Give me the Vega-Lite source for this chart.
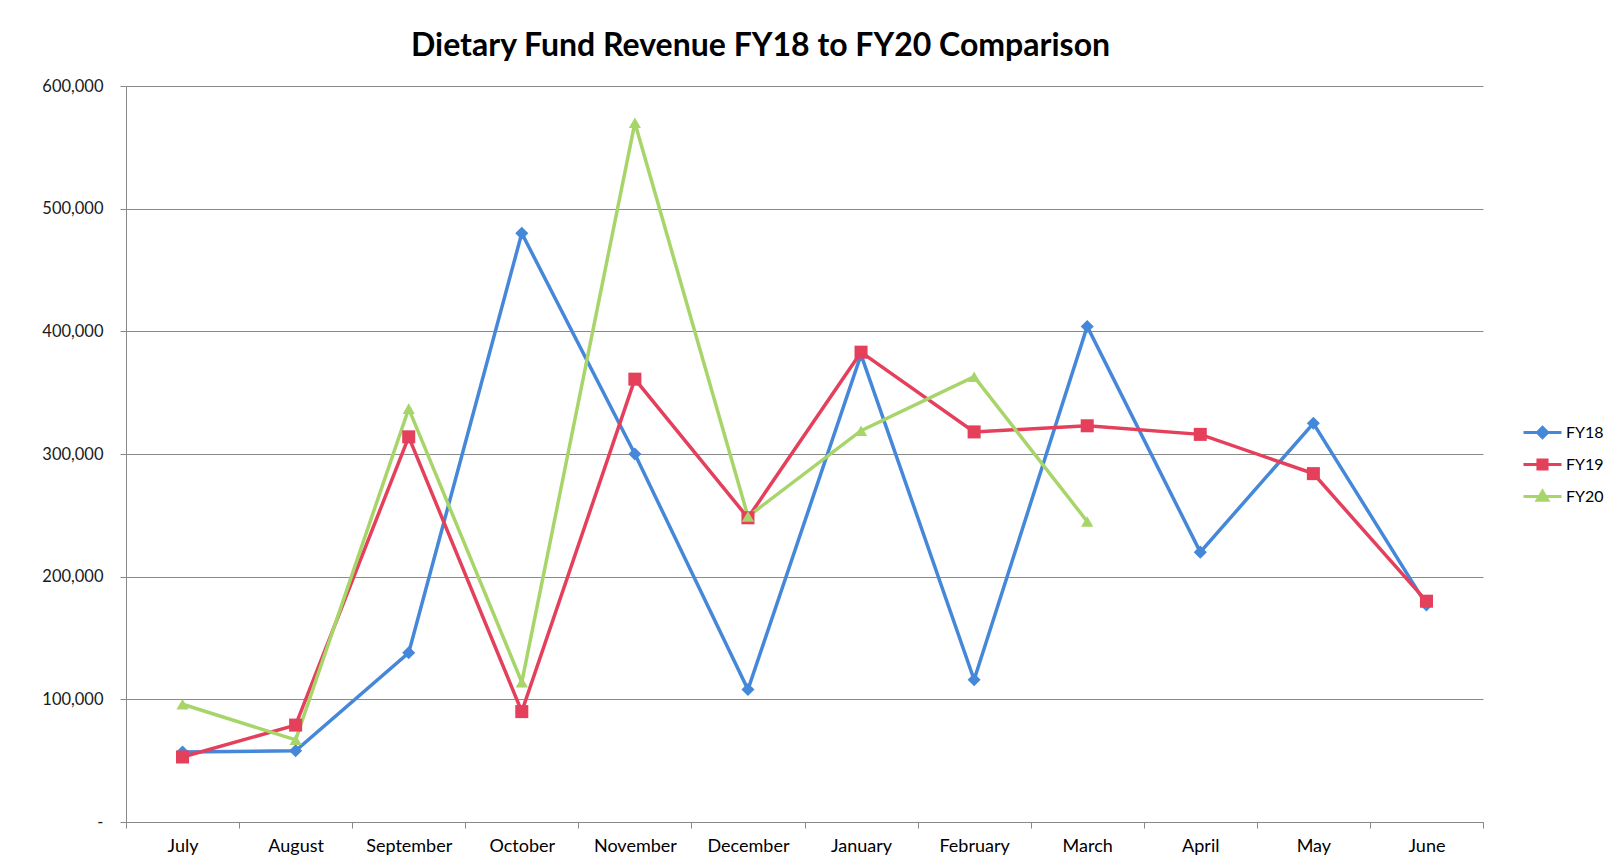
{
  "$schema": "https://vega.github.io/schema/vega-lite/v6.json",
  "width": 1357,
  "height": 736,
  "autosize": {"type": "none"},
  "padding": {"left": 126, "top": 86, "right": 141, "bottom": 45},
  "background": "white",
  "config": {"view": {"stroke": null}},
  "title": {
    "text": "Dietary Fund Revenue FY18 to FY20 Comparison",
    "font": "Lato",
    "fontSize": 32,
    "fontWeight": "bold",
    "color": "#000000",
    "anchor": "middle",
    "dx": -44,
    "offset": 15
  },
  "data": {
    "values": [
      {"month": "July", "m": 1, "series": "FY18", "value": 57000},
      {"month": "August", "m": 2, "series": "FY18", "value": 58000},
      {"month": "September", "m": 3, "series": "FY18", "value": 138000},
      {"month": "October", "m": 4, "series": "FY18", "value": 480000},
      {"month": "November", "m": 5, "series": "FY18", "value": 300000},
      {"month": "December", "m": 6, "series": "FY18", "value": 108000},
      {"month": "January", "m": 7, "series": "FY18", "value": 381000},
      {"month": "February", "m": 8, "series": "FY18", "value": 116000},
      {"month": "March", "m": 9, "series": "FY18", "value": 404000},
      {"month": "April", "m": 10, "series": "FY18", "value": 220000},
      {"month": "May", "m": 11, "series": "FY18", "value": 325000},
      {"month": "June", "m": 12, "series": "FY18", "value": 177000},
      {"month": "July", "m": 1, "series": "FY19", "value": 53000},
      {"month": "August", "m": 2, "series": "FY19", "value": 79000},
      {"month": "September", "m": 3, "series": "FY19", "value": 314000},
      {"month": "October", "m": 4, "series": "FY19", "value": 90000},
      {"month": "November", "m": 5, "series": "FY19", "value": 361000},
      {"month": "December", "m": 6, "series": "FY19", "value": 248000},
      {"month": "January", "m": 7, "series": "FY19", "value": 383000},
      {"month": "February", "m": 8, "series": "FY19", "value": 318000},
      {"month": "March", "m": 9, "series": "FY19", "value": 323000},
      {"month": "April", "m": 10, "series": "FY19", "value": 316000},
      {"month": "May", "m": 11, "series": "FY19", "value": 284000},
      {"month": "June", "m": 12, "series": "FY19", "value": 180000},
      {"month": "July", "m": 1, "series": "FY20", "value": 96000},
      {"month": "August", "m": 2, "series": "FY20", "value": 67000},
      {"month": "September", "m": 3, "series": "FY20", "value": 337000},
      {"month": "October", "m": 4, "series": "FY20", "value": 114000},
      {"month": "November", "m": 5, "series": "FY20", "value": 570000},
      {"month": "December", "m": 6, "series": "FY20", "value": 249000},
      {"month": "January", "m": 7, "series": "FY20", "value": 319000},
      {"month": "February", "m": 8, "series": "FY20", "value": 363000},
      {"month": "March", "m": 9, "series": "FY20", "value": 245000}
    ]
  },
  "encoding": {
    "x": {
      "field": "month",
      "type": "ordinal",
      "sort": ["July", "August", "September", "October", "November", "December", "January", "February", "March", "April", "May", "June"],
      "scale": {"type": "band", "paddingInner": 0, "paddingOuter": 0},
      "axis": {
        "title": null,
        "labelAngle": 0,
        "labelFont": "Lato",
        "labelFontSize": 18,
        "labelColor": "#000000",
        "tickBand": "extent",
        "tickSize": 6,
        "tickColor": "#888888",
        "domainColor": "#888888",
        "labelPadding": 9,
        "grid": false
      }
    },
    "y": {
      "field": "value",
      "type": "quantitative",
      "scale": {"domain": [0, 600000], "nice": false},
      "axis": {
        "title": null,
        "values": [0, 100000, 200000, 300000, 400000, 500000, 600000],
        "labelExpr": "datum.value === 0 ? '-' : format(datum.value, ',.0f')",
        "labelFont": "Lato",
        "labelFontSize": 16.5,
        "labelColor": "#1a1a1a",
        "tickSize": 6,
        "tickColor": "#888888",
        "domainColor": "#888888",
        "gridColor": "#8a8a8a",
        "labelPadding": 17,
        "grid": true,
        "encode": {
          "labels": {
            "update": {
              "dx": {"signal": "datum.value === 0 ? -6 : 0"}
            }
          }
        }
      }
    },
    "color": {
      "field": "series",
      "type": "nominal",
      "scale": {"domain": ["FY18", "FY19", "FY20"], "range": ["#4588d9", "#e4405c", "#a8d56a"]},
      "legend": {
        "orient": "none",
        "legendX": 1396,
        "legendY": 326,
        "title": null,
        "symbolSize": 1444,
        "symbolStrokeWidth": 3,
        "labelFont": "Lato",
        "labelFontSize": 16,
        "labelColor": "#000000",
        "labelOffset": 3,
        "rowPadding": 0,
        "encode": {
          "symbols": {
            "update": {
              "shape": {"signal": "datum.value === 'FY18' ? 'M-1,0L1,0M0,-0.27L0.27,0L0,0.27L-0.27,0Z' : datum.value === 'FY19' ? 'M-1,0L1,0M-0.24,-0.24L0.24,-0.24L0.24,0.24L-0.24,0.24Z' : 'M-1,0L1,0M0,-0.28L0.28,0.2L-0.28,0.2Z'"},
              "fill": {"scale": "color", "field": "value"},
              "stroke": {"scale": "color", "field": "value"},
              "strokeWidth": {"value": 3},
              "opacity": {"value": 1}
            }
          }
        }
      }
    },
    "order": {"field": "m", "type": "quantitative"}
  },
  "layer": [
    {"mark": {"type": "line", "strokeWidth": 3.5}},
    {
      "transform": [{"filter": "datum.series === 'FY18'"}],
      "mark": {"type": "point", "shape": "diamond", "filled": true, "opacity": 1, "size": 170}
    },
    {
      "transform": [{"filter": "datum.series === 'FY19'"}],
      "mark": {"type": "point", "shape": "square", "filled": true, "opacity": 1, "size": 170}
    },
    {
      "transform": [{"filter": "datum.series === 'FY20'"}],
      "mark": {"type": "point", "shape": "triangle-up", "filled": true, "opacity": 1, "size": 150}
    }
  ]
}
